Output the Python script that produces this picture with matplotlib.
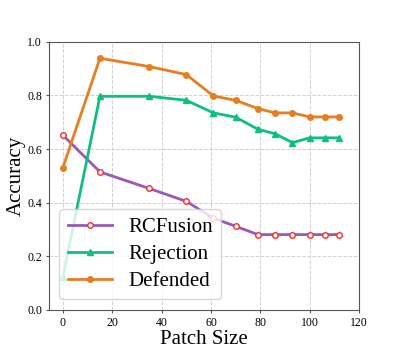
# libraries
import matplotlib.pyplot as plt

plt.rcParams['font.family'] = 'Liberation Serif'

patch_size = [0, 15, 35, 50, 61, 70, 79, 86, 93, 100, 106, 112]
rcfusion = [0.652, 0.515, 0.453, 0.405, 0.342, 0.312, 0.281, 0.281, 0.281, 0.281, 0.281, 0.281]
rejection = [0.124, 0.797, 0.797, 0.782, 0.735, 0.719, 0.674, 0.657, 0.624, 0.642, 0.642, 0.642]
defended = [0.531, 0.939, 0.908, 0.878, 0.798, 0.782, 0.751, 0.735, 0.735, 0.720, 0.720, 0.720]

fig, ax = plt.subplots(figsize=(3.99, 3.49), dpi=100)
fig.subplots_adjust(left=0.123, right=0.9, top=0.88, bottom=0.112)

ax.plot(patch_size, rcfusion, label='RCFusion', color='#9b59b6', lw=2,
        marker='o', markersize=4, markerfacecolor='white', markeredgecolor='#ff2a2a', markeredgewidth=1)
ax.plot(patch_size, rejection, label='Rejection', color='#0fbf80', lw=2,
        marker='^', markersize=4)
ax.plot(patch_size, defended, label='Defended', color='#e67e22', lw=2,
        marker='o', markersize=4)

ax.set_xlim(-5.6, 120)
ax.set_ylim(0, 1.0)
ax.set_xticks([0, 20, 40, 60, 80, 100, 120])
ax.set_yticks([0.0, 0.2, 0.4, 0.6, 0.8, 1.0])
ax.tick_params(labelsize=8.5, length=2, pad=3, color='#555555')
ax.grid(True, linestyle='--', color='#d0d0d0', lw=0.7)
for s in ax.spines.values():
    s.set_color('#555555')

ax.set_xlabel('Patch Size', fontsize=15, labelpad=1)
ax.set_ylabel('Accuracy', fontsize=15, labelpad=1)
ax.legend(loc='lower left', fontsize=15, handlelength=2.1, borderaxespad=0.5, labelspacing=0.35)

plt.savefig('out.png')
